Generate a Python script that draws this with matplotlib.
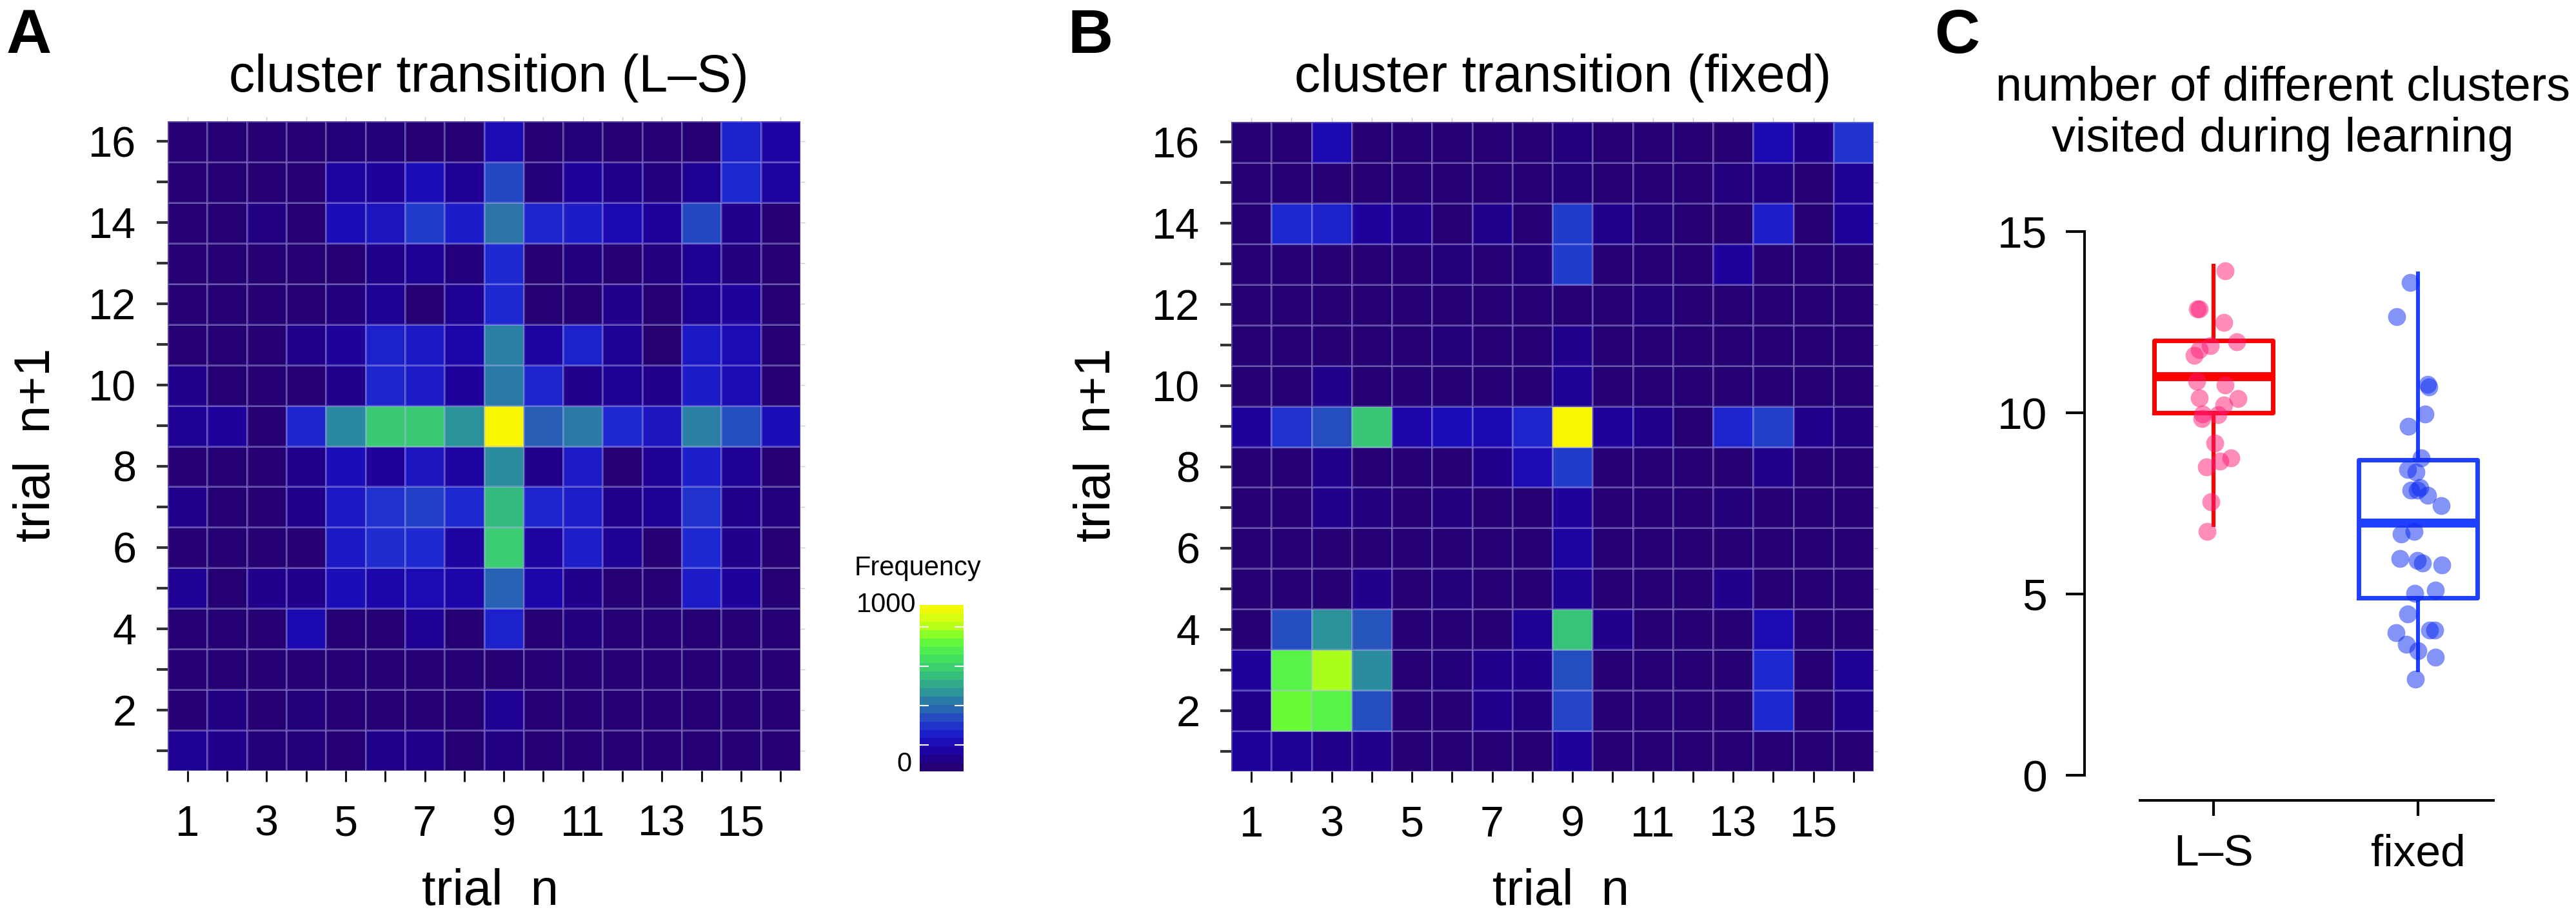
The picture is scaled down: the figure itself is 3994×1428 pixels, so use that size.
import numpy as np
import matplotlib.pyplot as plt
from matplotlib.colors import LinearSegmentedColormap, Normalize
from matplotlib.cm import ScalarMappable

plt.rcParams['font.family'] = ['Liberation Sans', 'DejaVu Sans']

W, H = 3994, 1428

trials = np.arange(1, 17)
x_labels = [str(t) if t % 2 == 1 else '' for t in trials]
y_labels = [str(t) if t % 2 == 0 else '' for t in trials]

# transition counts, rows = trial n+1 from 16 (top) down to 1, cols = trial n 1..16
ls_rows = [
    [20, 20, 20, 20, 40, 40, 20, 20, 160, 20, 40, 20, 20, 20, 230, 130],
    [20, 20, 20, 20, 120, 110, 170, 95, 320, 40, 110, 75, 50, 95, 250, 120],
    [20, 20, 60, 20, 170, 190, 290, 215, 410, 240, 215, 150, 110, 320, 75, 20],
    [20, 20, 20, 20, 20, 75, 95, 50, 250, 20, 50, 20, 50, 95, 50, 20],
    [20, 20, 20, 20, 50, 95, 20, 95, 250, 20, 20, 75, 20, 95, 110, 20],
    [20, 20, 20, 75, 110, 230, 200, 140, 430, 120, 230, 95, 10, 200, 160, 20],
    [75, 20, 20, 20, 75, 240, 210, 110, 420, 240, 75, 95, 75, 215, 160, 20],
    [95, 110, 20, 240, 450, 610, 610, 470, 1000, 360, 420, 250, 190, 430, 330, 170],
    [20, 20, 20, 75, 170, 110, 190, 120, 460, 75, 210, 20, 95, 225, 100, 20],
    [75, 20, 20, 75, 200, 270, 300, 250, 570, 240, 220, 75, 100, 270, 75, 50],
    [20, 20, 20, 20, 200, 260, 255, 120, 620, 120, 220, 95, 20, 250, 75, 20],
    [95, 20, 75, 75, 170, 140, 160, 140, 370, 140, 75, 20, 20, 210, 110, 20],
    [20, 20, 20, 150, 20, 20, 95, 20, 230, 20, 50, 20, 20, 20, 20, 20],
    [20, 20, 20, 20, 20, 20, 20, 20, 20, 20, 20, 20, 20, 20, 20, 20],
    [20, 60, 20, 40, 20, 20, 20, 20, 95, 20, 20, 20, 20, 20, 20, 20],
    [95, 75, 40, 40, 20, 75, 75, 20, 60, 20, 20, 20, 20, 20, 20, 20],
]
fixed_rows = [
    [20, 20, 150, 20, 20, 20, 20, 20, 50, 20, 20, 20, 20, 150, 75, 270],
    [20, 20, 20, 20, 20, 20, 20, 20, 40, 20, 20, 20, 50, 60, 20, 100],
    [20, 250, 230, 110, 75, 20, 75, 20, 290, 75, 40, 20, 20, 220, 20, 110],
    [20, 20, 20, 20, 20, 40, 20, 40, 290, 20, 20, 20, 110, 20, 20, 20],
    [20, 20, 20, 20, 20, 20, 20, 20, 20, 20, 40, 20, 20, 20, 20, 20],
    [20, 20, 20, 20, 20, 40, 20, 20, 75, 20, 20, 20, 20, 20, 20, 20],
    [20, 20, 75, 20, 20, 20, 20, 20, 95, 20, 20, 20, 20, 20, 20, 20],
    [110, 270, 330, 600, 140, 170, 155, 240, 1000, 110, 75, 20, 240, 300, 75, 50],
    [20, 20, 75, 20, 20, 20, 75, 160, 290, 20, 20, 20, 20, 75, 20, 20],
    [20, 20, 75, 50, 20, 50, 20, 20, 110, 20, 20, 20, 40, 20, 20, 20],
    [20, 20, 20, 20, 20, 20, 20, 20, 120, 20, 20, 20, 20, 20, 20, 20],
    [20, 20, 20, 75, 20, 40, 20, 20, 100, 20, 20, 20, 75, 20, 20, 20],
    [20, 330, 470, 340, 20, 20, 20, 95, 590, 75, 20, 20, 20, 160, 20, 20],
    [110, 750, 860, 460, 20, 40, 75, 75, 330, 20, 20, 20, 20, 250, 20, 95],
    [75, 790, 750, 330, 20, 20, 75, 50, 310, 20, 20, 20, 20, 250, 20, 75],
    [110, 95, 75, 75, 20, 20, 20, 20, 110, 20, 20, 20, 20, 20, 20, 20],
]

# colour scale used in the figure
cmap_levels = [0, 50, 100, 150, 200, 250, 300, 350, 400, 450, 500,
               550, 600, 650, 700, 750, 800, 850, 900, 950, 1000]
cmap_colors = ['#27006c', '#22007e', '#1e0096', '#1c08b0', '#1c18c4', '#1e28d0',
               '#2240c8', '#2658b8', '#2a70aa', '#2a88a0', '#30a090', '#34b484',
               '#38c676', '#3ed868', '#48e858', '#56f448', '#6cfc34', '#a0ff1c',
               '#c8ff14', '#e8fc0c', '#f8f600']
cbar_ticks = [158, 395, 630, 867]

# panel C
groups = ['L\u2013S', 'fixed']
box_q1 = [10.0, 4.9]
box_med = [11.0, 6.95]
box_q3 = [12.0, 8.7]
whis_lo = [6.9, 2.9]
whis_hi = [14.05, 13.85]

ls_y = [13.91, 12.87, 12.87, 12.49, 11.95, 11.85, 11.75, 11.58, 10.87, 10.76, 10.41,
        10.40, 10.22, 9.97, 9.95, 9.84, 9.16, 8.75, 8.66, 8.51, 7.55, 6.73]
ls_jit = [0.057, -0.078, -0.068, 0.051, 0.112, -0.016, -0.068, -0.096, -0.083, 0.056,
          -0.071, 0.12, 0.05, -0.054, 0.022, -0.058, 0.005, 0.084, 0.031, -0.035,
          -0.014, -0.031]
fx_y = [13.59, 12.65, 10.79, 10.71, 9.97, 9.62, 8.75, 8.44, 8.37, 7.93, 7.86, 7.86,
        7.72, 7.44, 6.73, 6.65, 5.97, 5.92, 5.86, 5.80, 5.02, 5.10, 4.44, 4.01, 4.01,
        3.93, 3.61, 3.44, 3.25, 2.65]
fx_jit = [-0.039, -0.105, 0.046, 0.052, 0.033, -0.048, 0.014, -0.052, -0.010, 0.009,
          -0.035, -0.005, 0.046, 0.113, -0.020, -0.083, -0.090, -0.005, 0.022, 0.117,
          -0.016, 0.084, -0.052, 0.056, 0.081, -0.109, -0.058, -0.001, 0.084, -0.014]

cmap = LinearSegmentedColormap.from_list(
    'freq', list(zip(np.array(cmap_levels) / 1000, cmap_colors)))
norm = Normalize(0, 1000)


def px(x0, y0, x1, y1):
    # pixel box (top-left origin) -> figure fraction rect
    return [x0 / W, 1 - y1 / H, (x1 - x0) / W, (y1 - y0) / H]


fig = plt.figure(figsize=(W / 100, H / 100), dpi=100)

edges = np.arange(0.5, 17.5, 1)


def heatmap(rect, rows, title, title_x, xlab_x, ylab_x):
    ax = fig.add_axes(rect)
    data = np.array(rows)[::-1]
    ax.pcolormesh(edges, edges, data, cmap=cmap, norm=norm,
                  edgecolors=(0.72, 0.72, 0.95, 0.35), linewidth=1.0)
    ax.set_xlim(0.5, 16.5)
    ax.set_ylim(0.5, 16.5)
    for s in ax.spines.values():
        s.set_visible(False)
    ax.set_xticks(trials)
    ax.set_xticklabels(x_labels)
    ax.set_yticks(trials)
    ax.set_yticklabels(y_labels)
    ax.tick_params(axis='x', length=12, width=2.2, color='#111111', pad=26, labelsize=48)
    ax.tick_params(axis='y', length=12, width=3, color='#333333', pad=23, labelsize=48)
    top = ax.secondary_xaxis('top')
    top.set_xticks(trials)
    top.tick_params(length=5, width=1, color='#cccccc', labeltop=False)
    top.spines['top'].set_visible(False)
    right = ax.secondary_yaxis('right')
    right.set_yticks(trials)
    right.tick_params(length=5, width=1, color='#cccccc', labelright=False)
    right.spines['right'].set_visible(False)
    fig.text(title_x / W, 1 - 142 / H, title, ha='center', va='baseline', fontsize=58)
    fig.text(xlab_x / W, 1 - 1403 / H, 'trial  n', ha='center', va='baseline', fontsize=56)
    fig.text(ylab_x / W, 1 - 690 / H, 'trial  n+1', ha='center', va='center',
             rotation=90, fontsize=56)
    return ax


heatmap(px(260, 188, 1241, 1195), ls_rows, 'cluster transition (L\u2013S)', 758, 760, 57)
heatmap(px(1909, 189, 2905, 1196), fixed_rows, 'cluster transition (fixed)', 2423, 2420, 1700)

# colorbar
cax = fig.add_axes(px(1426, 938, 1494, 1196))
cb = fig.colorbar(ScalarMappable(norm=norm, cmap=cmap), cax=cax,
                  boundaries=np.linspace(0, 1000, 21))
cb.outline.set_visible(False)
cb.set_ticks(cbar_ticks)
cax.tick_params(left=True, right=True, direction='in', color='white', length=10,
                width=1.5, labelleft=False, labelright=False)
fig.text(1325 / W, 1 - 892 / H, 'Frequency', ha='left', va='baseline', fontsize=30)
fig.text(1420 / W, 1 - 938 / H, '1000', ha='right', va='center', fontsize=30)
fig.text(1414 / W, 1 - 1185 / H, '0', ha='right', va='center', fontsize=30)

# panel C
axc = fig.add_axes(px(3232, 359, 3900, 1202))
stats = []
for i in range(len(groups)):
    stats.append(dict(q1=box_q1[i], med=box_med[i], q3=box_q3[i],
                      whislo=whis_lo[i], whishi=whis_hi[i], fliers=[]))
colors = ['#ff0000', '#2040ff']
for i, c in enumerate(colors):
    axc.bxp([stats[i]], positions=[i + 1], widths=0.58, showcaps=False,
            showfliers=False,
            boxprops=dict(color=c, linewidth=5),
            whiskerprops=dict(color=c, linewidth=4.4),
            medianprops=dict(color=c, linewidth=10, solid_capstyle='butt'))
axc.scatter(1 + np.array(ls_jit), ls_y, s=400, color='#ff1a75', alpha=0.5,
            linewidths=0, zorder=5)
axc.scatter(2 + np.array(fx_jit), fx_y, s=400, color='#0a28f0', alpha=0.5,
            linewidths=0, zorder=5)
axc.set_xlim(0.369, 2.476)
axc.set_ylim(0, 15)
axc.set_yticks([0, 5, 10, 15])
axc.set_xticks([1, 2])
axc.set_xticklabels(groups)
axc.spines['top'].set_visible(False)
axc.spines['right'].set_visible(False)
axc.spines['left'].set_linewidth(2.9)
axc.spines['bottom'].set_linewidth(2.9)
axc.spines['bottom'].set_position(('outward', 28))
axc.spines['bottom'].set_bounds(0.64, 2.37)
axc.tick_params(axis='y', length=21, width=3, pad=21, labelsize=50)
axc.tick_params(axis='x', length=17, width=3, pad=20, labelsize=50)
fig.text(3539 / W, 1 - 155 / H, 'number of different clusters', ha='center',
         va='baseline', fontsize=53)
fig.text(3539 / W, 1 - 235 / H, 'visited during learning', ha='center',
         va='baseline', fontsize=53)

# panel letters
for lab, x in [('A', 10), ('B', 1655), ('C', 3000)]:
    fig.text(x / W, 1 - 12 / H, lab, ha='left', va='top', fontsize=70, fontweight='bold')

fig.savefig('out.png', dpi=100)
